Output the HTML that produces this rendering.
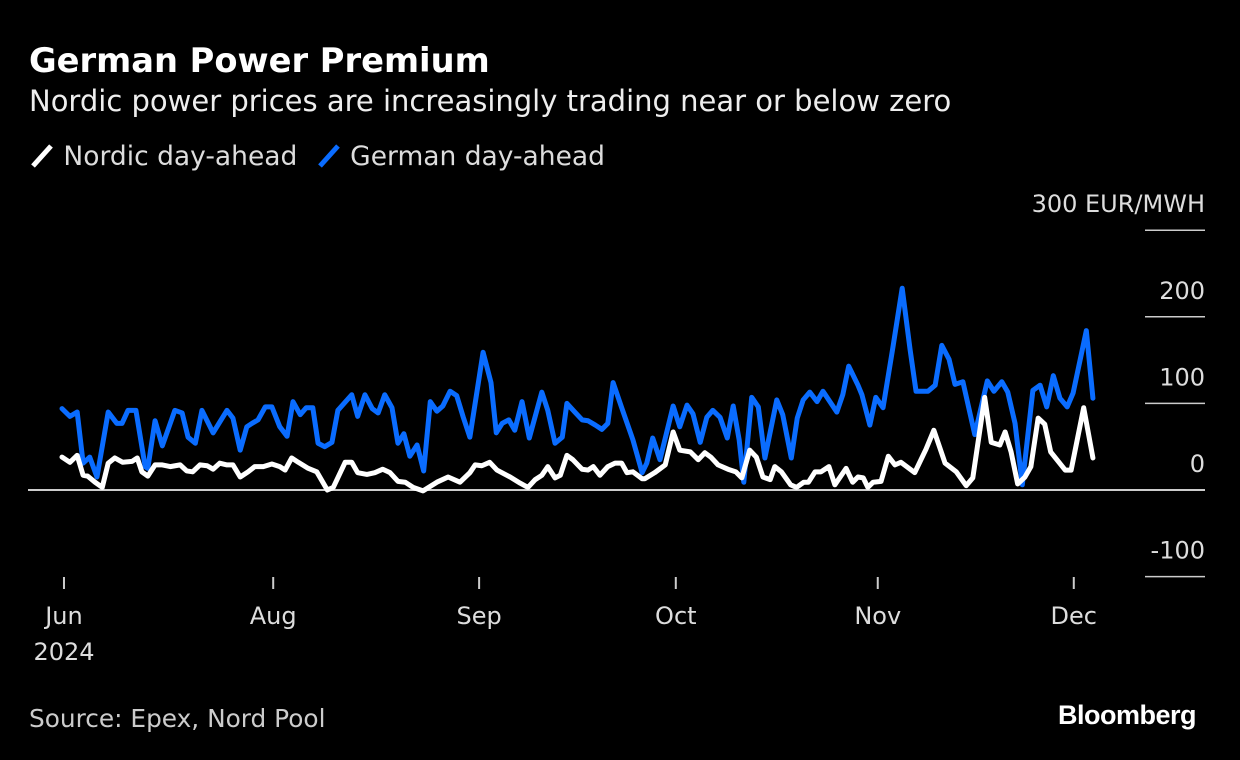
<!DOCTYPE html>
<html><head><meta charset="utf-8"><style>
body{margin:0;background:#000;width:1240px;height:760px;overflow:hidden;font-family:"DejaVu Sans",sans-serif;color:#fff}
.t{position:absolute;white-space:nowrap}
</style></head><body>
<div class="t" style="left:29px;top:41px;font-size:33.7px;font-weight:bold">German Power Premium</div>
<div class="t" style="left:29px;top:84px;font-size:29px;color:#eee">Nordic power prices are increasingly trading near or below zero</div>
<div class="t" style="left:29px;top:141px;font-size:26.5px;color:#ddd">
<span><svg width="26" height="26" style="vertical-align:-3px"><line x1="4" y1="24" x2="22" y2="4" stroke="#fff" stroke-width="5"/></svg> Nordic day-ahead</span>
<span style="margin-left:10px"><svg width="26" height="26" style="vertical-align:-3px"><line x1="4" y1="24" x2="22" y2="4" stroke="#0a6cff" stroke-width="5"/></svg> German day-ahead</span>
</div>
<svg id="c" width="1240" height="760" style="position:absolute;left:0;top:0"></svg>
<div class="t" style="left:29px;top:704px;font-size:24.8px;color:#ccc">Source: Epex, Nord Pool</div>
<div class="t" style="left:1058px;top:700px;font-size:27px;font-weight:bold;letter-spacing:-0.5px;font-family:'Liberation Sans',sans-serif">Bloomberg</div>
<script>
const yTicks=[300,200,100,0,-100];
const yTickLabels=["300 EUR/MWH","200","100","0","-100"];
const xTickDays=[0.3,32,63.2,93,123.6,153.3];
const xTickLabels=["Jun","Aug","Sep","Oct","Nov","Dec"];
const germanDays=[0,1.2,2.3,3.2,4.2,5.3,7,8.3,9.1,10,11.2,12.6,13,14.1,15.2,17.1,18.2,19.1,20.2,21.2,22.9,25,25.9,27,28,28.8,29.7,30.8,31.8,33,34.1,35,36.1,37,38,38.8,39.8,40.9,41.8,43.9,44.8,45.9,47,47.9,48.9,50,50.9,51.8,52.7,53.8,54.8,55.8,56.8,57.7,58.8,59.8,60.8,61.8,63.8,65,65.8,66.7,67.7,68.6,69.7,70.8,72.7,73.6,74.7,75.8,76.5,77.7,78.8,79.7,80.8,81.8,82.7,83.5,84.8,86.5,87.9,88.6,89.5,90.6,92.6,93.6,94.7,95.6,96.7,97.7,98.6,99.7,100.8,101.7,102.6,103.3,104.5,105.5,106.5,108.3,109.2,110.5,111.4,112.3,113.3,114.4,115.3,117.4,118.3,119.2,120.6,121.2,122.4,123.3,124.4,125.9,127.3,128.5,129.4,131.2,132.3,133.3,134.4,135.3,136.5,138.3,140.2,141.2,142.4,143.3,144.4,145.5,147.1,148.2,149.2,150.2,151.2,152.3,153.2,155.2,156.2];
const germanValues=[94,85,90,31,38,15,90,77,77,92,92,27,25,80,51,92,89,61,54,92,66,92,83,46,73,77,81,96,96,73,62,102,87,95,95,54,50,55,92,110,85,110,94,89,110,95,54,65,39,52,22,102,91,97,114,109,84,61,159,124,66,77,81,69,102,60,113,92,54,61,100,90,81,80,75,70,77,124,95,58,20,31,60,35,97,73,98,88,55,84,92,84,60,97,58,9,107,96,37,104,87,37,83,104,113,102,114,90,110,143,121,110,75,107,95,165,233,162,114,114,121,167,151,122,125,64,126,114,125,113,77,6,115,121,96,132,106,96,112,184,106];
const nordicDays=[0,1.2,2.3,3.2,3.9,5,6.1,7,8,9.2,10.6,11.4,12.1,13,14.1,15.2,16.4,17.9,18.9,19.8,20.9,22,22.9,23.9,25,25.9,27,28.2,29.2,30.5,31.8,33,33.8,34.8,35.8,37.3,38.6,40.2,41.1,42.9,43.9,44.8,46.2,47.4,48.6,49.7,50.9,52,53.2,54.7,56.8,58.5,60.3,61.8,62.6,63.6,64.8,65.9,67.9,69.4,70.6,71.7,72.7,73.6,74.7,75.5,76.5,77.4,78.8,79.7,80.5,81.5,82.7,83.8,84.8,85.6,86.5,87.9,88.3,89.8,91.4,92.6,93.6,95.2,96.4,97.4,98.3,99.4,100.9,102.1,103,104.2,105.2,106.2,107.3,108,109,110.4,111.3,112.4,113.1,114.1,115,116.2,117.1,118.8,119.8,120.6,121.4,122.1,122.9,124.1,125.2,126.2,127.1,129.2,130.9,132.1,133.8,135.5,137,138,139.8,140.8,142.1,142.9,143.8,144.8,145.9,146.8,147.9,148.9,149.8,152,152.9,154.8,156.2];
const nordicValues=[38,32,40,17,16,9,3,31,37,32,33,37,21,16,29,29,27,29,22,21,29,28,24,31,29,29,15,21,27,27,30,27,23,37,32,25,21,0,3,32,32,20,18,20,24,20,10,9,3,-1,9,15,9,20,29,28,32,23,15,8,3,12,17,27,14,17,40,35,24,23,27,17,27,31,31,20,21,13,13,20,29,67,46,44,35,43,38,29,24,21,14,46,38,15,12,27,21,6,3,9,9,21,21,27,6,25,9,15,14,3,9,10,39,29,32,20,47,69,31,21,5,14,107,55,52,67,44,7,15,27,83,76,44,23,23,95,37];
const NS="http://www.w3.org/2000/svg";
const svg=document.getElementById('c');
const xS=d=>62+d*6.6;
const yS=v=>490-v*0.866;
const FF='DejaVu Sans, sans-serif';
function mk(tag,attrs){const e=document.createElementNS(NS,tag);for(const k in attrs)e.setAttribute(k,attrs[k]);svg.appendChild(e);return e;}
yTicks.forEach((v,i)=>{
  if(v!==0){const l=mk('line',{x1:1145,x2:1205,y1:yS(v),y2:yS(v),stroke:'#ccc','stroke-width':1.5});
  
  }
  const t=mk('text',{x:1205,y:yS(v)-18,'text-anchor':'end',fill:'#ddd','font-size':24,'font-family':FF});
  t.textContent=yTickLabels[i];
  
  
});
const zl=mk('line',{x1:28,x2:1205,y1:yS(0),y2:yS(0),stroke:'#ccc','stroke-width':2});


xTickDays.forEach((d,i)=>{
  const l=mk('line',{x1:xS(d),x2:xS(d),y1:577,y2:589,stroke:'#ccc','stroke-width':2});
  
  
  const t=mk('text',{x:xS(d),y:624,'text-anchor':'middle',fill:'#ddd','font-size':24,'font-family':FF});
  t.textContent=xTickLabels[i];
  
  
});
const yr=mk('text',{x:64,y:660,'text-anchor':'middle',fill:'#ddd','font-size':24,'font-family':FF});
yr.textContent='2024';


function line(days,vals,color,name){
  const p=mk('polyline',{points:days.map((d,i)=>xS(d)+','+yS(vals[i])).join(' '),fill:'none',stroke:color,'stroke-width':5,'stroke-linejoin':'round','stroke-linecap':'round'});
  
  
}
line(germanDays,germanValues,'#0a6cff','german-day-ahead-line');
line(nordicDays,nordicValues,'#ffffff','nordic-day-ahead-line');
</script>
</body></html>
